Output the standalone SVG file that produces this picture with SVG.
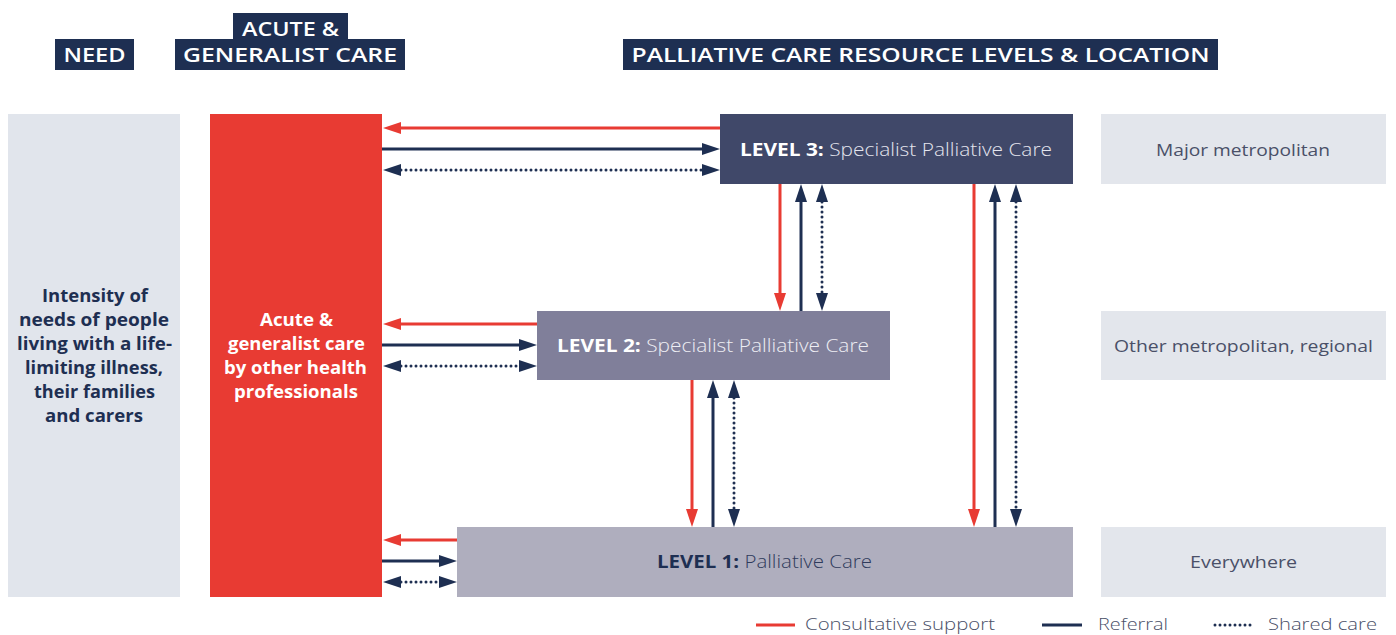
<svg xmlns="http://www.w3.org/2000/svg" width="1396" height="635" viewBox="0 0 1396 635">
<style>
.hdr{fill:#1e2f52}
.hdrt{font-family:"Open Sans","Liberation Sans",sans-serif;font-weight:600;font-size:20px;fill:#ffffff}
.side{fill:#e1e5ec}
.loc{fill:#e3e6ec}
.loct{font-family:"Open Sans","Liberation Sans",sans-serif;font-size:17px;fill:#4a5068;text-anchor:middle}
.needt{font-family:"Open Sans","Liberation Sans",sans-serif;font-weight:700;font-size:17px;fill:#1e2f52;text-anchor:middle}
.acut{font-family:"Open Sans","Liberation Sans",sans-serif;font-weight:700;font-size:17px;fill:#ffffff;text-anchor:middle}
.lvl{font-family:"Open Sans","Liberation Sans",sans-serif;font-size:17.5px}
.b{font-weight:700}
.l{font-weight:300}
.red{stroke:#e83b33;stroke-width:3;fill:none}
.nav{stroke:#1e2f52;stroke-width:3;fill:none}
.dot{stroke:#1e2f52;stroke-width:3;fill:none;stroke-dasharray:0 5;stroke-linecap:round}
.legt{font-family:"Open Sans","Liberation Sans",sans-serif;font-size:16.5px;fill:#4a5068;font-weight:300}
</style>
<defs>
<marker id="ar" markerUnits="userSpaceOnUse" markerWidth="18" markerHeight="12" refX="0" refY="6" orient="auto-start-reverse"><path d="M0,0 L18,6 L0,12 z" fill="#e83b33"/></marker>
<marker id="an" markerUnits="userSpaceOnUse" markerWidth="18" markerHeight="12" refX="0" refY="6" orient="auto-start-reverse"><path d="M0,0 L18,6 L0,12 z" fill="#1e2f52"/></marker>
</defs>

<g id="headers">
<rect class="hdr" x="55" y="39" width="79" height="31"/>
<text class="hdrt" x="94.5" y="62" text-anchor="middle" textLength="62" lengthAdjust="spacingAndGlyphs">NEED</text>
<rect class="hdr" x="233" y="13" width="115" height="28"/>
<rect class="hdr" x="175" y="39" width="230" height="31"/>
<text class="hdrt" x="290.5" y="36" text-anchor="middle" textLength="97" lengthAdjust="spacingAndGlyphs">ACUTE &amp;</text>
<text class="hdrt" x="290" y="62" text-anchor="middle" textLength="214" lengthAdjust="spacingAndGlyphs">GENERALIST CARE</text>
<rect class="hdr" x="623" y="39" width="595" height="31"/>
<text class="hdrt" x="920.5" y="62" text-anchor="middle" textLength="578" lengthAdjust="spacingAndGlyphs">PALLIATIVE CARE RESOURCE LEVELS &amp; LOCATION</text>
</g>

<g id="need">
<rect class="side" x="8" y="114" width="172" height="483"/>
<text class="needt" x="95" y="302" textLength="106" lengthAdjust="spacingAndGlyphs">Intensity of</text>
<text class="needt" x="94" y="326" textLength="150" lengthAdjust="spacingAndGlyphs">needs of people</text>
<text class="needt" x="94.5" y="350" textLength="155" lengthAdjust="spacingAndGlyphs">living with a life-</text>
<text class="needt" x="94" y="374" textLength="138" lengthAdjust="spacingAndGlyphs">limiting illness,</text>
<text class="needt" x="94.5" y="398" textLength="121" lengthAdjust="spacingAndGlyphs">their families</text>
<text class="needt" x="94" y="422" textLength="98" lengthAdjust="spacingAndGlyphs">and carers</text>
</g>

<g id="acute">
<rect x="210" y="114" width="172" height="483" fill="#e83b33"/>
<text class="acut" x="296.5" y="326" textLength="73" lengthAdjust="spacingAndGlyphs">Acute &amp;</text>
<text class="acut" x="296.5" y="350" textLength="137" lengthAdjust="spacingAndGlyphs">generalist care</text>
<text class="acut" x="295.5" y="374" textLength="143" lengthAdjust="spacingAndGlyphs">by other health</text>
<text class="acut" x="296" y="398" textLength="124" lengthAdjust="spacingAndGlyphs">professionals</text>
</g>

<g id="level3">
<rect x="720" y="114" width="353" height="70" fill="#404869"/>
<text class="lvl" x="740" y="156" fill="#ffffff" textLength="312" lengthAdjust="spacingAndGlyphs"><tspan class="b">LEVEL 3:</tspan><tspan class="l" fill="#e4e5ee"> Specialist Palliative Care</tspan></text>
</g>
<g id="level2">
<rect x="537" y="311" width="353" height="69" fill="#807f9a"/>
<text class="lvl" x="557" y="352" fill="#ffffff" textLength="312" lengthAdjust="spacingAndGlyphs"><tspan class="b">LEVEL 2:</tspan><tspan class="l" fill="#eeeef4"> Specialist Palliative Care</tspan></text>
</g>
<g id="level1">
<rect x="457" y="527" width="616" height="70" fill="#afaebe"/>
<text class="lvl" x="657" y="568" fill="#1e2f52" textLength="215" lengthAdjust="spacingAndGlyphs"><tspan class="b">LEVEL 1:</tspan><tspan class="l" fill="#2f3b5c"> Palliative Care</tspan></text>
</g>

<g id="loc3">
<rect class="loc" x="1101" y="114" width="285" height="70"/>
<text class="loct" x="1243" y="156" textLength="174" lengthAdjust="spacingAndGlyphs">Major metropolitan</text>
</g>
<g id="loc2">
<rect class="loc" x="1101" y="311" width="285" height="69"/>
<text class="loct" x="1243.5" y="352" textLength="259" lengthAdjust="spacingAndGlyphs">Other metropolitan, regional</text>
</g>
<g id="loc1">
<rect class="loc" x="1101" y="527" width="285" height="70"/>
<text class="loct" x="1243.5" y="568" textLength="107" lengthAdjust="spacingAndGlyphs">Everywhere</text>
</g>

<g id="connectors">
<line class="red" x1="720" y1="128" x2="401" y2="128" marker-end="url(#ar)"/>
<line class="nav" x1="382" y1="149" x2="702" y2="149" marker-end="url(#an)"/>
<line class="dot" x1="401" y1="170" x2="702" y2="170" marker-start="url(#an)" marker-end="url(#an)"/>
<line class="red" x1="537" y1="324" x2="401" y2="324" marker-end="url(#ar)"/>
<line class="nav" x1="382" y1="345" x2="519" y2="345" marker-end="url(#an)"/>
<line class="dot" x1="401" y1="366" x2="519" y2="366" marker-start="url(#an)" marker-end="url(#an)"/>
<line class="red" x1="457" y1="540" x2="401" y2="540" marker-end="url(#ar)"/>
<line class="nav" x1="382" y1="561" x2="439" y2="561" marker-end="url(#an)"/>
<line class="dot" x1="401" y1="582" x2="439" y2="582" marker-start="url(#an)" marker-end="url(#an)"/>
<line class="red" x1="780" y1="184" x2="780" y2="293" marker-end="url(#ar)"/>
<line class="nav" x1="801" y1="311" x2="801" y2="202" marker-end="url(#an)"/>
<line class="dot" x1="822" y1="202" x2="822" y2="293" marker-start="url(#an)" marker-end="url(#an)"/>
<line class="red" x1="692" y1="380" x2="692" y2="509" marker-end="url(#ar)"/>
<line class="nav" x1="713" y1="527" x2="713" y2="398" marker-end="url(#an)"/>
<line class="dot" x1="734" y1="398" x2="734" y2="509" marker-start="url(#an)" marker-end="url(#an)"/>
<line class="red" x1="974" y1="184" x2="974" y2="509" marker-end="url(#ar)"/>
<line class="nav" x1="995" y1="527" x2="995" y2="202" marker-end="url(#an)"/>
<line class="dot" x1="1016" y1="202" x2="1016" y2="509" marker-start="url(#an)" marker-end="url(#an)"/>
</g>

<g id="legend">
<line class="red" x1="756" y1="625" x2="795" y2="625"/>
<text class="legt" x="805" y="630" textLength="190" lengthAdjust="spacingAndGlyphs">Consultative support</text>
<line class="nav" x1="1042" y1="625" x2="1082" y2="625"/>
<text class="legt" x="1098" y="630" textLength="70" lengthAdjust="spacingAndGlyphs">Referral</text>
<line class="dot" x1="1215" y1="625" x2="1253" y2="625" stroke-width="2.5"/>
<text class="legt" x="1268" y="630" textLength="109" lengthAdjust="spacingAndGlyphs">Shared care</text>
</g>
</svg>
